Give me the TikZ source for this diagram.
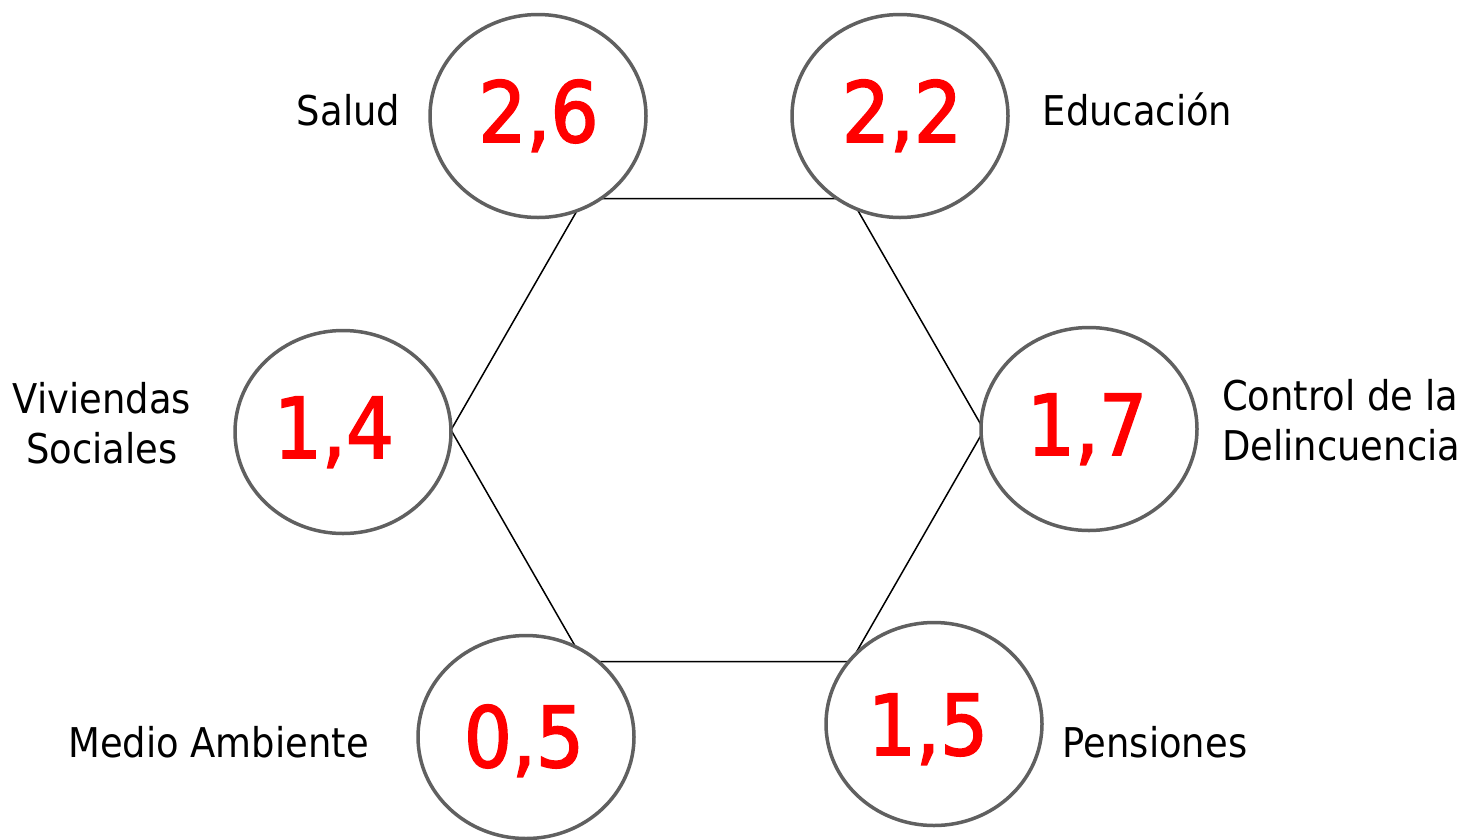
\documentclass[tikz,border=0pt]{standalone}
\usepackage{fontspec}
\setmainfont{DejaVu Sans}[FakeStretch=0.9]
\newfontfamily\numfont{DejaVu Sans}[FakeStretch=0.9,FakeBold=2]
\usetikzlibrary{shapes.geometric}
\definecolor{ringgray}{RGB}{96,96,96}
\definecolor{numred}{RGB}{255,0,0}
\begin{document}
\begin{tikzpicture}[x=1pt,y=-1pt,
  ring/.style={ellipse,draw=ringgray,line width=3.5pt,fill=white,minimum width=216pt,minimum height=203pt,inner sep=0pt},
  num/.style={anchor=base,inner sep=0pt,text=numred,font=\numfont\fontsize{84}{84}\selectfont},
  lbl/.style={anchor=base,inner sep=0pt,font=\fontsize{41}{50}\selectfont},
  edge/.style={draw=black,line width=1.5pt}]
\useasboundingbox (0,0) rectangle (1474,839);
% hexagon corners
\coordinate (hL) at (451,430);
\coordinate (hTL) at (584,198.5);
\coordinate (hTR) at (851,198.5);
\coordinate (hR) at (984,430);
\coordinate (hBR) at (851,661.5);
\coordinate (hBL) at (584,661.5);
\draw[edge] (hL) -- (hTL) -- (hTR) -- (hR) -- (hBR) -- (hBL) -- cycle;
% circles
\node[ring] (cS) at (538,116) {};
\node[ring] (cE) at (900,116) {};
\node[ring] (cV) at (343,432) {};
\node[ring] (cC) at (1089,429) {};
\node[ring] (cM) at (526,737) {};
\node[ring] (cP) at (934,724) {};
% numbers
\node[num] (nS) at (538.5,142) {2,6};
\node[num] (nE) at (902,142) {2,2};
\node[num] (nV) at (334,458) {1,4};
\node[num] (nC) at (1087,455) {1,7};
\node[num] (nM) at (524,767) {0,5};
\node[num] (nP) at (928,755) {1,5};
% labels
\node[lbl] (lS) at (348.5,125) {Salud};
\node[lbl] (lE) at (1137.5,125) {Educación};
\node[lbl,align=center] (lV) at (102,463) {Viviendas\\Sociales};
\node[lbl,align=left,anchor=base west] (lC) at (1222,460) {Control de la\\Delincuencia};
\node[lbl] (lM) at (218.5,757) {Medio Ambiente};
\node[lbl] (lP) at (1155,757) {Pensiones};
\end{tikzpicture}
\end{document}
